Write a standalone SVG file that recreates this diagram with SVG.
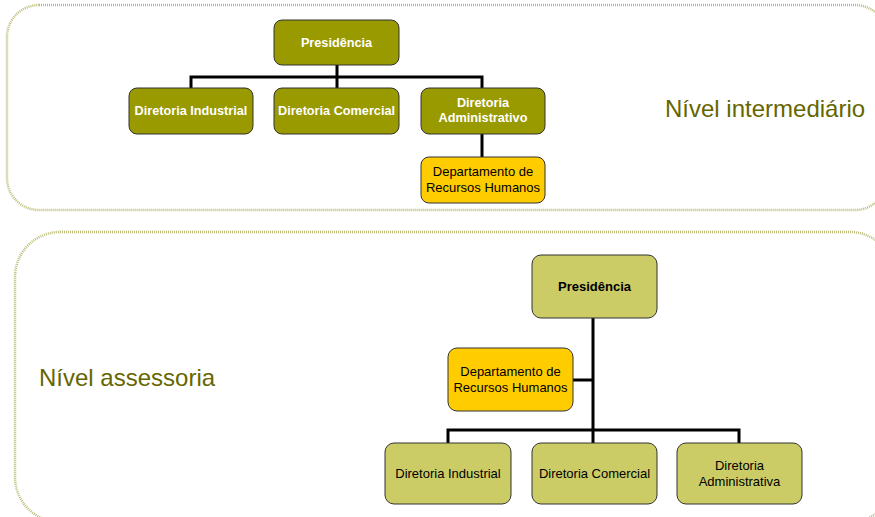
<svg xmlns="http://www.w3.org/2000/svg" width="875" height="517" viewBox="0 0 875 517">
<style>
.panel{fill:#fff;stroke:#bcbc78;stroke-width:2.5;stroke-dasharray:1 1}
.dk{fill:#999900;stroke:#333;stroke-width:1}
.lt{fill:#cccc66;stroke:#333;stroke-width:1}
.rh{fill:#ffcc00;stroke:#333;stroke-width:1}
.tw{font-family:"Liberation Sans",Arial,sans-serif;font-size:12.7px;font-weight:bold;fill:#fff;text-anchor:middle}
.tb{font-family:"Liberation Sans",Arial,sans-serif;font-size:13px;fill:#000;text-anchor:middle}
.tbb{font-weight:bold}
.lvl{font-family:"Liberation Sans",Arial,sans-serif;font-size:24px;fill:#666600}
.con{fill:none;stroke:#000;stroke-width:3}
</style>
<rect class="panel" x="7" y="5" width="880" height="205" rx="32"/>
<rect class="panel" x="15" y="232" width="880" height="290" rx="45"/>
<text class="lvl" x="665" y="117">Nível intermediário</text>
<text class="lvl" x="39" y="386">Nível assessoria</text>
<g id="connectors">
<path class="con" d="M337 65V77M191 88V77H482V88M337 77V88M482 134V157"/>
<path class="con" d="M593 318V443M573 380H593M448 443V430H739V443"/>
</g>
<g id="t-pres"><rect class="dk" x="274" y="20" width="125" height="45" rx="8"/><text class="tw" x="336.5" y="47">Presidência</text></g>
<g id="t-ind"><rect class="dk" x="129" y="88" width="124" height="46" rx="8"/><text class="tw" x="191" y="115">Diretoria Industrial</text></g>
<g id="t-com"><rect class="dk" x="274" y="88" width="125" height="46" rx="8"/><text class="tw" x="336.5" y="115">Diretoria Comercial</text></g>
<g id="t-adm"><rect class="dk" x="421" y="88" width="124" height="46" rx="8"/><text class="tw" x="483" y="107">Diretoria</text><text class="tw" x="483" y="122">Administrativo</text></g>
<g id="t-rh"><rect class="rh" x="421" y="157" width="124" height="46" rx="8"/><text class="tb" x="483" y="176">Departamento de</text><text class="tb" x="483" y="192">Recursos Humanos</text></g>
<g id="b-pres"><rect class="lt" x="532" y="255" width="125" height="63" rx="9"/><text class="tb tbb" x="594.5" y="291">Presidência</text></g>
<g id="b-rh"><rect class="rh" x="448" y="348" width="125" height="63" rx="9"/><text class="tb" x="510.5" y="376">Departamento de</text><text class="tb" x="510.5" y="392">Recursos Humanos</text></g>
<g id="b-ind"><rect class="lt" x="385" y="443" width="126" height="61" rx="9"/><text class="tb" x="448" y="478">Diretoria Industrial</text></g>
<g id="b-com"><rect class="lt" x="532" y="443" width="125" height="61" rx="9"/><text class="tb" x="594.5" y="478">Diretoria Comercial</text></g>
<g id="b-adm"><rect class="lt" x="677" y="443" width="125" height="61" rx="9"/><text class="tb" x="739.5" y="470">Diretoria</text><text class="tb" x="739.5" y="486">Administrativa</text></g>
</svg>
